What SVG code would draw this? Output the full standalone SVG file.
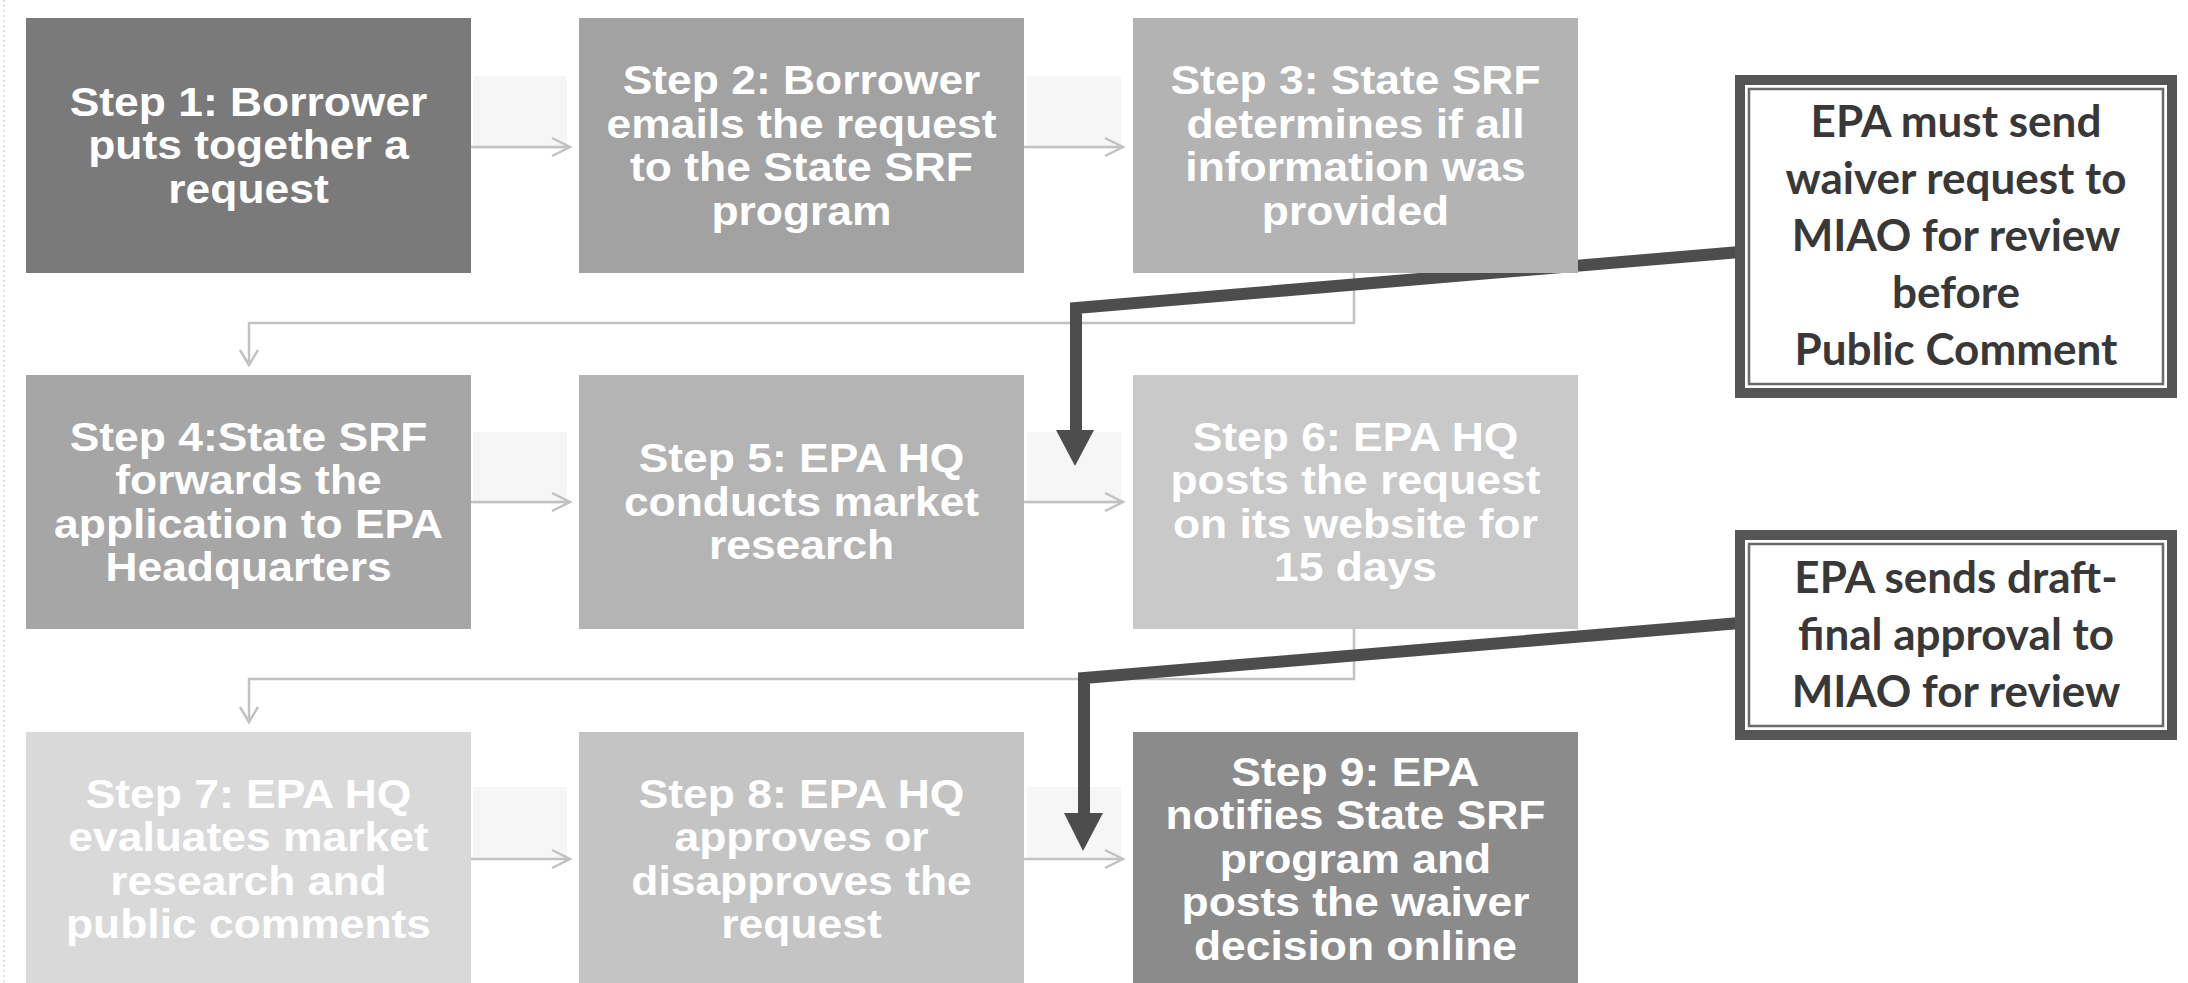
<svg xmlns="http://www.w3.org/2000/svg" width="2188" height="983" viewBox="0 0 2188 983">
<defs>
<style>
.step{font-family:"Liberation Sans",Arial,sans-serif;font-weight:bold;font-size:40px;fill:#ffffff;text-anchor:middle}
.note{font-family:Lato,"Open Sans",sans-serif;font-weight:bold;font-size:44px;fill:#383838;text-anchor:middle}
.thin{fill:none;stroke:#c2c2c2;stroke-width:2.5}
.band{fill:#f6f6f6}
.call{fill:none;stroke:#4d4d4d;stroke-width:12;stroke-linejoin:miter}
.head{fill:#4d4d4d}
.frame{fill:#ffffff;stroke:#555555;stroke-width:10}
.inner{fill:none;stroke:#6a6a6a;stroke-width:2.5}
</style>
</defs>
<rect width="2188" height="983" fill="#ffffff"/>
<line x1="4" y1="0" x2="4" y2="983" stroke="#d6d6d6" stroke-width="1.5" stroke-dasharray="2 3"/>

<g id="connectors">
  <rect class="band" x="473" y="76" width="94" height="73"/>
  <rect class="band" x="1027" y="76" width="94" height="73"/>
  <rect class="band" x="473" y="432" width="94" height="72"/>
  <rect class="band" x="1027" y="432" width="94" height="72"/>
  <rect class="band" x="473" y="787" width="94" height="73"/>
  <rect class="band" x="1027" y="787" width="94" height="73"/>

  <path class="thin" d="M471 147 H569 M552 138 L570 147 L552 156"/>
  <path class="thin" d="M1024 147 H1122 M1105 138 L1123 147 L1105 156"/>
  <path class="thin" d="M471 502 H569 M552 493 L570 502 L552 511"/>
  <path class="thin" d="M1024 502 H1122 M1105 493 L1123 502 L1105 511"/>
  <path class="thin" d="M471 859 H569 M552 850 L570 859 L552 868"/>
  <path class="thin" d="M1024 859 H1122 M1105 850 L1123 859 L1105 868"/>

  <path class="thin" d="M1354 273 V323 H249 V364 M240 350 L249 365 L258 350"/>
  <path class="thin" d="M1354 629 V679 H249 V721 M240 707 L249 722 L258 707"/>

  <path class="call" d="M1740 252 L1076 308 V436"/>
  <polygon class="head" points="1056,430 1094,430 1075,466"/>
  <path class="call" d="M1740 623 L1084 678 V818"/>
  <polygon class="head" points="1064,813 1103,813 1083,851"/>
</g>

<g id="step1">
  <rect x="26" y="18" width="445" height="255" fill="#7a7a7a"/>
  <text class="step" transform="translate(248.5 0) scale(1.11 1)"><tspan x="0" y="116">Step 1: Borrower</tspan><tspan x="0" dy="43.5">puts together a</tspan><tspan x="0" dy="43.5">request</tspan></text>
</g>
<g id="step2">
  <rect x="579" y="18" width="445" height="255" fill="#a2a2a2"/>
  <text class="step" transform="translate(801.5 0) scale(1.11 1)"><tspan x="0" y="94.5">Step 2: Borrower</tspan><tspan x="0" dy="43.5">emails the request</tspan><tspan x="0" dy="43.5">to the State SRF</tspan><tspan x="0" dy="43.5">program</tspan></text>
</g>
<g id="step3">
  <rect x="1133" y="18" width="445" height="255" fill="#b3b3b3"/>
  <text class="step" transform="translate(1355.5 0) scale(1.11 1)"><tspan x="0" y="94.5">Step 3: State SRF</tspan><tspan x="0" dy="43.5">determines if all</tspan><tspan x="0" dy="43.5">information was</tspan><tspan x="0" dy="43.5">provided</tspan></text>
</g>
<g id="step4">
  <rect x="26" y="375" width="445" height="254" fill="#a6a6a6"/>
  <text class="step" transform="translate(248.5 0) scale(1.11 1)"><tspan x="0" y="451">Step 4:State SRF</tspan><tspan x="0" dy="43.5">forwards the</tspan><tspan x="0" dy="43.5">application to EPA</tspan><tspan x="0" dy="43.5">Headquarters</tspan></text>
</g>
<g id="step5">
  <rect x="579" y="375" width="445" height="254" fill="#b4b4b4"/>
  <text class="step" transform="translate(801.5 0) scale(1.11 1)"><tspan x="0" y="472.5">Step 5: EPA HQ</tspan><tspan x="0" dy="43.5">conducts market</tspan><tspan x="0" dy="43.5">research</tspan></text>
</g>
<g id="step6">
  <rect x="1133" y="375" width="445" height="254" fill="#c9c9c9"/>
  <text class="step" transform="translate(1355.5 0) scale(1.11 1)"><tspan x="0" y="451">Step 6: EPA HQ</tspan><tspan x="0" dy="43.5">posts the request</tspan><tspan x="0" dy="43.5">on its website for</tspan><tspan x="0" dy="43.5">15 days</tspan></text>
</g>
<g id="step7">
  <rect x="26" y="732" width="445" height="254" fill="#d9d9d9"/>
  <text class="step" transform="translate(248.5 0) scale(1.11 1)"><tspan x="0" y="808">Step 7: EPA HQ</tspan><tspan x="0" dy="43.5">evaluates market</tspan><tspan x="0" dy="43.5">research and</tspan><tspan x="0" dy="43.5">public comments</tspan></text>
</g>
<g id="step8">
  <rect x="579" y="732" width="445" height="254" fill="#c4c4c4"/>
  <text class="step" transform="translate(801.5 0) scale(1.11 1)"><tspan x="0" y="808">Step 8: EPA HQ</tspan><tspan x="0" dy="43.5">approves or</tspan><tspan x="0" dy="43.5">disapproves the</tspan><tspan x="0" dy="43.5">request</tspan></text>
</g>
<g id="step9">
  <rect x="1133" y="732" width="445" height="254" fill="#8b8b8b"/>
  <text class="step" transform="translate(1355.5 0) scale(1.11 1)"><tspan x="0" y="786">Step 9: EPA</tspan><tspan x="0" dy="43.5">notifies State SRF</tspan><tspan x="0" dy="43.5">program and</tspan><tspan x="0" dy="43.5">posts the waiver</tspan><tspan x="0" dy="43.5">decision online</tspan></text>
</g>

<g id="note1">
  <rect class="frame" x="1740" y="80" width="432" height="313"/>
  <rect class="inner" x="1749" y="89" width="414" height="295"/>
  <text class="note"><tspan x="1956" y="137">EPA must send</tspan><tspan x="1956" y="194">waiver request to</tspan><tspan x="1956" y="251">MIAO for review</tspan><tspan x="1956" y="308">before</tspan><tspan x="1956" y="365">Public Comment</tspan></text>
</g>
<g id="note2">
  <rect class="frame" x="1740" y="535" width="432" height="200"/>
  <rect class="inner" x="1749" y="544" width="414" height="182"/>
  <text class="note"><tspan x="1956" y="593">EPA sends draft-</tspan><tspan x="1956" y="650">final approval to</tspan><tspan x="1956" y="707">MIAO for review</tspan></text>
</g>
</svg>
